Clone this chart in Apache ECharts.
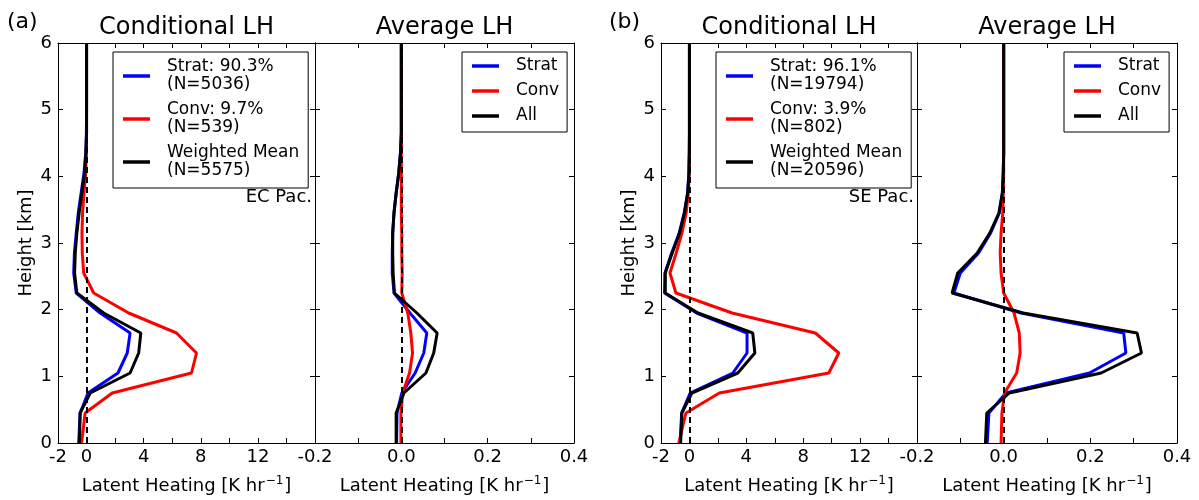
<!DOCTYPE html>
<html><head><meta charset="utf-8">
<script src="https://cdn.jsdelivr.net/npm/echarts@6/dist/echarts.min.js"></script>
<style>html,body{margin:0;padding:0;background:#fff}#c{width:1199px;height:500px}</style>
</head><body><div id="c"></div>
<script>
// Heights [km]
const heights = [0, 0.45, 0.75, 1.05, 1.35, 1.65, 1.95, 2.25, 2.55, 2.85, 3.15, 3.45, 3.75, 4.05, 4.35, 4.65, 5.0, 6.0];

// (a) EC Pac. conditional LH [K/hr]
const stratCondA = [-0.55, -0.45, 0.1, 2.2, 2.85, 3.05, 0.95, -0.72, -0.9, -0.85, -0.72, -0.58, -0.38, -0.18, -0.06, -0.01, 0, 0];
const convCondA  = [-0.35, -0.1, 1.8, 7.35, 7.7, 6.3, 2.95, 0.5, -0.2, -0.3, -0.32, -0.28, -0.18, -0.06, -0.02, 0, 0, 0];
const allCondA   = [-0.5, -0.45, 0.26, 3.05, 3.65, 3.8, 1.2, -0.68, -0.84, -0.79, -0.68, -0.52, -0.33, -0.13, -0.04, 0, 0, 0];
// (a) average LH
const stratAvgA = [-0.011, -0.01, 0.001, 0.032, 0.052, 0.059, 0.02, -0.017, -0.021, -0.021, -0.02, -0.017, -0.012, -0.006, -0.002, 0, 0, 0];
const convAvgA  = [-0.001, -0.001, 0.003, 0.019, 0.026, 0.022, 0.015, 0.001, 0.002, 0.001, 0.001, 0, 0, 0, 0, 0, 0, 0];
const allAvgA   = [-0.012, -0.012, 0.006, 0.057, 0.075, 0.083, 0.036, -0.016, -0.019, -0.02, -0.02, -0.017, -0.012, -0.006, -0.002, 0, 0, 0];
// (b) SE Pac. conditional LH
const stratCondB = [-0.65, -0.55, 0.05, 3.05, 4.05, 4.05, 0.5, -1.75, -1.72, -1.25, -0.72, -0.37, -0.13, -0.04, -0.01, 0, 0, 0];
const convCondB  = [-0.75, -0.25, 2.1, 9.8, 10.5, 8.85, 3.0, -0.95, -1.37, -0.93, -0.53, -0.23, -0.08, -0.02, 0, 0, 0, 0];
const allCondB   = [-0.62, -0.53, 0.17, 3.4, 4.6, 4.45, 0.6, -1.7, -1.7, -1.21, -0.69, -0.35, -0.12, -0.03, -0.01, 0, 0, 0];
// (b) average LH
const stratAvgB = [-0.038, -0.034, 0.005, 0.198, 0.282, 0.277, 0.04, -0.115, -0.1, -0.058, -0.03, -0.01, -0.003, -0.001, 0, 0, 0, 0];
const convAvgB  = [-0.006, -0.004, 0.002, 0.03, 0.038, 0.036, 0.024, 0, -0.006, -0.008, -0.006, -0.002, -0.001, 0, 0, 0, 0, 0];
const allAvgB   = [-0.042, -0.039, 0.013, 0.225, 0.318, 0.308, 0.045, -0.119, -0.106, -0.061, -0.032, -0.011, -0.003, -0.001, 0, 0, 0, 0];

const legendCondA = ['Strat: 90.3%\n(N=5036)', 'Conv: 9.7%\n(N=539)', 'Weighted Mean\n(N=5575)'];
const legendCondB = ['Strat: 96.1%\n(N=19794)', 'Conv: 3.9%\n(N=802)', 'Weighted Mean\n(N=20596)'];
const legendAvg = ['Strat', 'Conv', 'All'];
const panelTitles = ['Conditional LH', 'Average LH', 'Conditional LH', 'Average LH'];
const regionLabels = ['EC Pac.', 'SE Pac.'];
const panelLetters = ['(a)', '(b)'];

const condTickLabels = [-2, 0, 4, 8, 12];
const avgTickLabels = [-0.2, 0.0, 0.2, 0.4];
const heightTicks = [0, 1, 2, 3, 4, 5, 6];

const FONT = 'DejaVu Sans';
const colors = ['#0000ff', '#ff0000', '#000000'];

const grids = [
  {left: 58, top: 43, width: 257, height: 404},
  {left: 315, top: 43, width: 259, height: 404},
  {left: 661, top: 43, width: 256, height: 404},
  {left: 917, top: 43, width: 260, height: 404}
];

const panels = [
  {cond: true, names: legendCondA, data: [stratCondA, convCondA, allCondA]},
  {cond: false, names: legendAvg, data: [stratAvgA, convAvgA, allAvgA]},
  {cond: true, names: legendCondB, data: [stratCondB, convCondB, allCondB]},
  {cond: false, names: legendAvg, data: [stratAvgB, convAvgB, allAvgB]}
];

const xAxis = [], yAxis = [], series = [], legend = [];
const axLine = {show: true, onZero: false, lineStyle: {color: '#000', width: 1}};
const axTick = {show: true, inside: true, length: 5, lineStyle: {color: '#000', width: 1}};

panels.forEach((p, gi) => {
  const xr = p.cond ? {min: -2, max: 16, interval: 2} : {min: -0.2, max: 0.4, interval: 0.1};
  const fmt = p.cond
    ? (v => condTickLabels.some(t => Math.abs(t - v) < 1e-6) ? String(v) : '')
    : (v => avgTickLabels.some(t => Math.abs(t - v) < 1e-6) ? v.toFixed(1) : '');
  ['bottom', 'top'].forEach(pos => {
    xAxis.push(Object.assign({
      type: 'value', gridIndex: gi, position: pos,
      axisLine: axLine, axisTick: axTick, splitLine: {show: false},
      axisLabel: pos === 'bottom'
        ? {show: true, formatter: fmt, margin: 5, color: '#000', fontFamily: FONT, fontSize: 18}
        : {show: false},
      name: pos === 'bottom' ? '{a|Latent Heating [K hr}{s|−1}{a|]}' : '',
      nameLocation: 'middle', nameGap: 32,
      nameTextStyle: {
        rich: {
          a: {fontFamily: FONT, fontSize: 18, color: '#000', lineHeight: 22},
          s: {fontFamily: FONT, fontSize: 12, color: '#000', lineHeight: 22, verticalAlign: 'top', padding: [0, 1, 0, 1]}
        }
      }
    }, xr));
  });
  ['left', 'right'].forEach(pos => {
    const showLab = pos === 'left' && p.cond;
    yAxis.push({
      type: 'value', gridIndex: gi, position: pos, min: 0, max: 6, interval: 1,
      axisLine: axLine, axisTick: axTick, splitLine: {show: false},
      axisLabel: showLab
        ? {show: true, margin: 6, color: '#000', fontFamily: FONT, fontSize: 18,
           formatter: v => heightTicks.includes(v) ? String(v) : ''}
        : {show: false},
      name: showLab ? 'Height [km]' : '',
      nameLocation: 'middle', nameGap: 23, nameRotate: 90,
      nameTextStyle: {fontFamily: FONT, fontSize: 18, color: '#000'}
    });
  });
  p.data.forEach((vals, si) => {
    const s = {
      type: 'line', name: p.names[si],
      xAxisIndex: gi * 2, yAxisIndex: gi * 2,
      data: heights.map((h, k) => [vals[k], h]),
      showSymbol: false, symbol: 'none', smooth: false, clip: true,
      lineStyle: {color: colors[si], width: 3},
      itemStyle: {color: colors[si]},
      z: 2 + si
    };
    if (si === 2) {
      s.markLine = {
        silent: true, symbol: 'none', animation: false,
        label: {show: false},
        lineStyle: {color: '#000', type: [6, 4], width: 2},
        data: [{xAxis: 0}],
        z: 10
      };
    }
    series.push(s);
  });
});

const legendPos = [
  {left: 113, top: 52, cond: true},
  {left: 462, top: 52, cond: false},
  {left: 716, top: 52, cond: true},
  {left: 1064, top: 52, cond: false}
];
legendPos.forEach((lp, gi) => {
  legend.push({
    show: true, orient: 'vertical', left: lp.left, top: lp.top,
    data: panels[gi].names,
    icon: 'rect', itemWidth: 27, itemHeight: 3.5, itemGap: 7,
    padding: lp.cond ? [6, 9, 8, 10] : [5, 8, 7, 10],
    borderColor: '#000', borderWidth: 1, borderRadius: 0, backgroundColor: '#fff',
    selectedMode: false,
    textStyle: {fontFamily: FONT, fontSize: 17, lineHeight: 18, color: '#000', padding: [0, 0, 0, 12]}
  });
});

const graphic = [];
grids.forEach((g, gi) => {
  graphic.push({type: 'text', x: g.left + g.width / 2, y: 28,
    style: {text: panelTitles[gi], font: '24px "' + FONT + '"', fill: '#000', textAlign: 'center', textVerticalAlign: 'middle'}});
});
graphic.push({type: 'text', x: 7, y: 22, style: {text: panelLetters[0], font: '22px "' + FONT + '"', fill: '#000', textAlign: 'left', textVerticalAlign: 'middle'}});
graphic.push({type: 'text', x: 609, y: 22, style: {text: panelLetters[1], font: '22px "' + FONT + '"', fill: '#000', textAlign: 'left', textVerticalAlign: 'middle'}});
graphic.push({type: 'text', x: 312, y: 197, style: {text: regionLabels[0], font: '18px "' + FONT + '"', fill: '#000', textAlign: 'right', textVerticalAlign: 'middle'}});
graphic.push({type: 'text', x: 914, y: 197, style: {text: regionLabels[1], font: '18px "' + FONT + '"', fill: '#000', textAlign: 'right', textVerticalAlign: 'middle'}});

const chart = echarts.init(document.getElementById('c'), null, {renderer: 'canvas'});
chart.setOption({
  animation: false,
  backgroundColor: '#fff',
  grid: grids,
  xAxis, yAxis, series, legend, graphic
});
</script>
</body></html>
